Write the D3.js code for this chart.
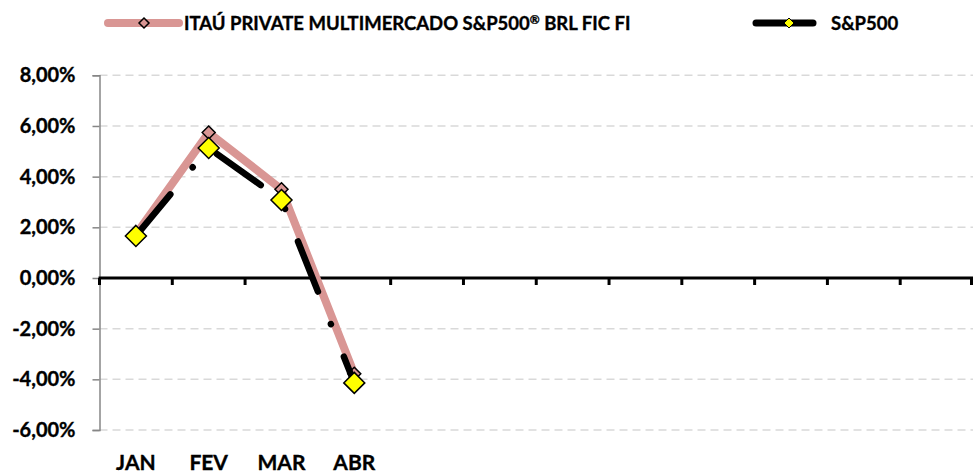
<!DOCTYPE html>
<html lang="pt">
<head>
  <meta charset="UTF-8">
  <title>Itaú Private Multimercado S&amp;P500 vs S&amp;P500</title>
  <script src="https://d3js.org/d3.v7.min.js"></script>
  <style>
    body { margin: 0; background: #fff; }
    svg { display: block; font-family: Lato, "Open Sans", sans-serif; font-weight: bold; }
    svg text { stroke: #000; stroke-width: 0.35px; }
    .grid line { stroke: #d9d9d9; stroke-width: 1.5; stroke-dasharray: 8 5; }
  </style>
</head>
<body>
  <svg width="973" height="474"></svg>
  <script>
    // dados
    const months = ["JAN", "FEV", "MAR", "ABR", "M5", "M6", "M7", "M8", "M9", "M10", "M11", "M12"];
    const monthLabels = ["JAN", "FEV", "MAR", "ABR", "", "", "", "", "", "", "", ""];
    const fundValues = [1.72, 5.74, 3.50, -3.78];
    const spValues = [1.66, 5.13, 3.08, -4.14];
    const yTicks = [8, 6, 4, 2, 0, -2, -4, -6];
    const fundNameParts = ["ITAÚ PRIVATE MULTIMERCADO S&P500", "®", " BRL FIC FI"];
    const spName = "S&P500";

    const svg = d3.select("svg");
    const plotLeft = 99.5, plotRight = 973, plotTop = 75.3, plotBottom = 430;

    const x = d3.scaleBand().domain(months).range([plotLeft, plotRight]);
    const y = d3.scaleLinear().domain([-6, 8]).range([plotBottom, plotTop]);
    const fmt = v => v.toFixed(2).replace(".", ",") + "%";

    // grade
    svg.append("g").attr("class", "grid")
      .selectAll("line")
      .data(yTicks.filter(d => d !== 0))
      .enter().append("line")
      .attr("x1", plotLeft).attr("x2", plotRight)
      .attr("y1", d => y(d)).attr("y2", d => y(d));

    // eixo y
    const yAxis = svg.append("g")
      .attr("transform", `translate(${plotLeft},0)`)
      .call(d3.axisLeft(y).tickValues(yTicks).tickSize(7).tickPadding(17).tickFormat(fmt));
    yAxis.select(".domain").attr("stroke", "#868686").attr("stroke-width", 1.5);
    yAxis.selectAll(".tick line").attr("stroke", "#868686").attr("stroke-width", 1.5);
    yAxis.selectAll("text")
      .attr("fill", "#000")
      .style("font-size", "20px")
      .style("font-family", "Lato, sans-serif")
      .style("font-weight", "bold");

    // eixo x (linha do zero)
    const y0 = y(0);
    svg.append("line")
      .attr("x1", plotLeft - 1).attr("x2", plotRight)
      .attr("y1", y0).attr("y2", y0)
      .attr("stroke", "#000").attr("stroke-width", 3);
    const bounds = months.map(m => x(m)).concat([plotRight - 1.5]);
    svg.append("g").selectAll("line")
      .data(bounds)
      .enter().append("line")
      .attr("x1", d => d).attr("x2", d => d)
      .attr("y1", y0).attr("y2", y0 + 7)
      .attr("stroke", "#000").attr("stroke-width", 3);

    svg.append("g").selectAll("text")
      .data(months)
      .enter().append("text")
      .attr("x", d => x(d) + x.bandwidth() / 2)
      .attr("y", 470)
      .attr("text-anchor", "middle")
      .style("font-size", "21px")
      .text((d, i) => monthLabels[i]);

    const cx = i => x(months[i]) + x.bandwidth() / 2;
    const line = d3.line().x((d, i) => cx(i)).y(d => y(d));

    const diamond = (sel, size, fill, sw) => sel
      .attr("d", `M0,${-size}L${size},0L0,${size}L${-size},0Z`)
      .attr("fill", fill).attr("stroke", "#000").attr("stroke-width", sw);

    // série do fundo
    svg.append("path")
      .datum(fundValues)
      .attr("d", line)
      .attr("fill", "none")
      .attr("stroke", "#d99694")
      .attr("stroke-width", 8)
      .attr("stroke-linejoin", "round");
    svg.append("g").selectAll("path")
      .data(fundValues)
      .enter().append("path")
      .attr("transform", (d, i) => `translate(${cx(i)},${y(d)})`)
      .call(diamond, 6.5, "#d99694", 1.5);

    // série S&P500
    svg.append("path")
      .datum(spValues)
      .attr("d", line)
      .attr("fill", "none")
      .attr("stroke", "#000")
      .attr("stroke-width", 6.5)
      .attr("stroke-linecap", "round")
      .attr("stroke-dasharray", "54 35 0.1 35");
    svg.append("g").selectAll("path")
      .data(spValues)
      .enter().append("path")
      .attr("transform", (d, i) => `translate(${cx(i)},${y(d)})`)
      .call(diamond, 10.5, "#ffff00", 1.5);

    // legenda
    const lg = svg.append("g");
    lg.append("line")
      .attr("x1", 108).attr("x2", 179).attr("y1", 23).attr("y2", 23)
      .attr("stroke", "#d99694").attr("stroke-width", 8).attr("stroke-linecap", "round");
    lg.append("path").attr("transform", "translate(144,23)").call(diamond, 5, "#d99694", 1.5);
    const fundText = lg.append("text").attr("x", 184).attr("y", 29.5).style("font-size", "18.5px");
    fundText.append("tspan").text(fundNameParts[0]);
    fundText.append("tspan").attr("dy", -6).style("font-size", "12px").text(fundNameParts[1]);
    fundText.append("tspan").attr("dy", 6).text(fundNameParts[2]);

    lg.append("line")
      .attr("x1", 756).attr("x2", 813).attr("y1", 23).attr("y2", 23)
      .attr("stroke", "#000").attr("stroke-width", 7).attr("stroke-linecap", "round");
    lg.append("path").attr("transform", "translate(789,23)").call(diamond, 5, "#ffff00", 1);
    lg.append("text").attr("x", 831).attr("y", 29.5).style("font-size", "18.5px").text(spName);
  </script>
</body>
</html>
